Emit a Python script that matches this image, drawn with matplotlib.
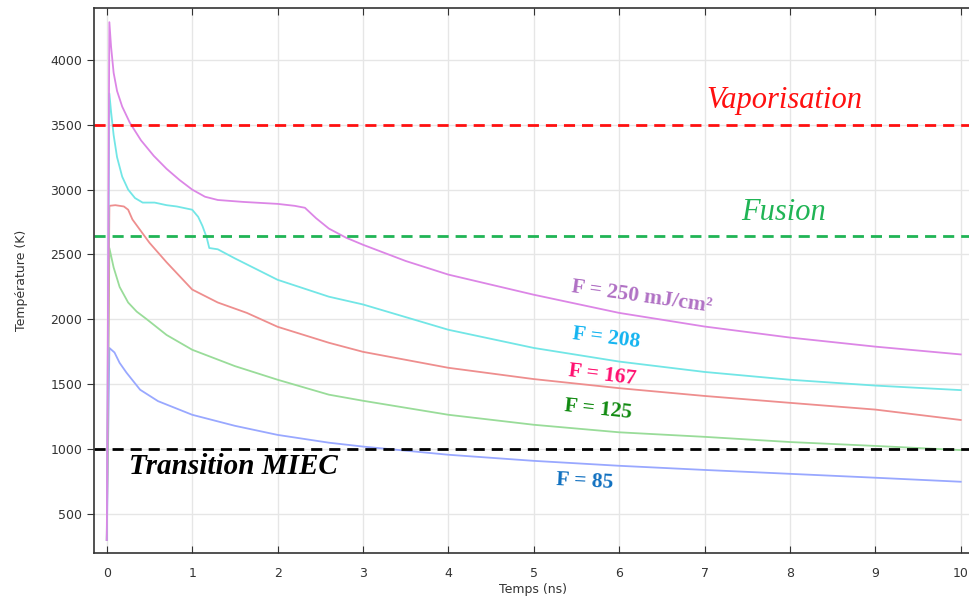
import matplotlib
matplotlib.use("Agg")
import matplotlib.pyplot as plt

# temps (ns) / temperature (K) for each fluence
t_250 = [0, 0.03, 0.05, 0.08, 0.12, 0.18, 0.27, 0.4, 0.55, 0.7, 0.85, 1.0, 1.15, 1.3, 1.6, 2.0,
         2.2, 2.32, 2.45, 2.6, 2.8, 3.0, 3.5, 4, 5, 6, 7, 8, 9, 10]
T_250 = [300, 4290, 4100, 3900, 3760, 3640, 3515, 3380, 3260, 3160, 3075, 3000, 2945, 2920, 2905, 2890,
         2875, 2860, 2780, 2700, 2630, 2575, 2450, 2345, 2190, 2050, 1945, 1860, 1790, 1730]

t_208 = [0, 0.03, 0.05, 0.08, 0.12, 0.18, 0.25, 0.33, 0.42, 0.56, 0.7, 0.82, 1.0, 1.07, 1.12, 1.17,
         1.2, 1.3, 1.5, 2.0, 2.6, 3, 4, 5, 6, 7, 8, 9, 10]
T_208 = [300, 3740, 3600, 3420, 3250, 3100, 3000, 2935, 2900, 2900, 2880, 2870, 2845, 2790, 2720, 2630,
         2550, 2540, 2470, 2305, 2175, 2115, 1920, 1780, 1675, 1595, 1535, 1490, 1455]

t_167 = [0, 0.03, 0.1, 0.2, 0.25, 0.3, 0.4, 0.5, 0.7, 1.0, 1.3, 1.64, 2.0, 2.6, 3, 4, 5, 6, 7, 8, 9, 10]
T_167 = [300, 2875, 2880, 2870, 2845, 2770, 2680, 2590, 2440, 2230, 2130, 2050, 1943, 1820, 1750, 1627,
         1540, 1470, 1410, 1357, 1305, 1225]

t_125 = [0, 0.03, 0.08, 0.15, 0.25, 0.35, 0.47, 0.7, 1.0, 1.5, 2.0, 2.6, 3, 4, 5, 6, 7, 8, 9, 10]
T_125 = [300, 2550, 2400, 2250, 2130, 2060, 2000, 1880, 1766, 1640, 1535, 1420, 1373, 1265, 1188, 1130,
         1095, 1055, 1025, 993]

t_85 = [0, 0.03, 0.09, 0.15, 0.23, 0.39, 0.6, 1.0, 1.5, 2.0, 2.6, 3, 4, 5, 6, 7, 8, 9, 10]
T_85 = [300, 1780, 1745, 1665, 1590, 1458, 1370, 1265, 1180, 1110, 1050, 1020, 957, 910, 872, 840, 810,
        780, 749]

T_vap = 3500
T_fus = 2640
T_miec = 1000

fig = plt.figure(figsize=(9.7, 5.99), dpi=100)
ax = fig.add_axes([0.0969, 0.0768, 0.905, 0.910])

curves = [(t_85, T_85, "#99a8ff"), (t_125, T_125, "#99dc99"), (t_167, T_167, "#ee8e8e"),
          (t_208, T_208, "#72e6e6"), (t_250, T_250, "#dc86e6")]
for t, T, c in curves:
    ax.plot(t, T, color=c, lw=1.3, solid_joinstyle="round")

dash = (0, (4, 2.5))
ax.axhline(T_vap, color="#ff1010", lw=2, ls=dash)
ax.axhline(T_fus, color="#20b455", lw=2, ls=dash)
ax.axhline(T_miec, color="black", lw=2, ls=dash)

serif = "Liberation Serif"
ax.text(7.93, 3685, "Vaporisation", color="#ff1010", fontsize=22, style="italic",
        family=serif, ha="center", va="center")
ax.text(7.93, 2820, "Fusion", color="#20b455", fontsize=22, style="italic",
        family=serif, ha="center", va="center")
ax.text(1.48, 865, "Transition MIEC", color="black", fontsize=21, style="italic",
        weight="bold", family=serif, ha="center", va="center")

ax.text(6.27, 2174, "F = 250 mJ/cm²", color="#b070c4", fontsize=15.5, weight="bold",
        family=serif, ha="center", va="center", rotation=-8)
ax.text(5.85, 1858, "F = 208", color="#14b4f0", fontsize=15.5, weight="bold",
        family=serif, ha="center", va="center", rotation=-7)
ax.text(5.8, 1573, "F = 167", color="#ff1070", fontsize=15.5, weight="bold",
        family=serif, ha="center", va="center", rotation=-7)
ax.text(5.75, 1303, "F = 125", color="#108a10", fontsize=15.5, weight="bold",
        family=serif, ha="center", va="center", rotation=-6)
ax.text(5.6, 750, "F = 85", color="#1070c0", fontsize=15.5, weight="bold",
        family=serif, ha="center", va="center", rotation=-3)

ax.set_xlim(-0.15, 10.13)
ax.set_ylim(200, 4400)
ax.set_xticks(range(0, 11))
ax.set_yticks([500, 1000, 1500, 2000, 2500, 3000, 3500, 4000])
ax.grid(True, color="#e6e6e6", lw=1)
ax.set_axisbelow(True)

ax.tick_params(axis="x", direction="in", top=True, length=5, labelsize=9, colors="#333333", pad=10)
ax.tick_params(axis="y", direction="out", right=True, length=5, labelsize=9, colors="#333333")
for s in ax.spines.values():
    s.set_color("#333333")
    s.set_linewidth(1.2)

ax.set_xlabel("Temps (ns)", fontsize=9, color="#333333", labelpad=2)
ax.set_ylabel("Température (K)", fontsize=9, color="#333333", labelpad=16)

fig.savefig("out.png", dpi=100)
